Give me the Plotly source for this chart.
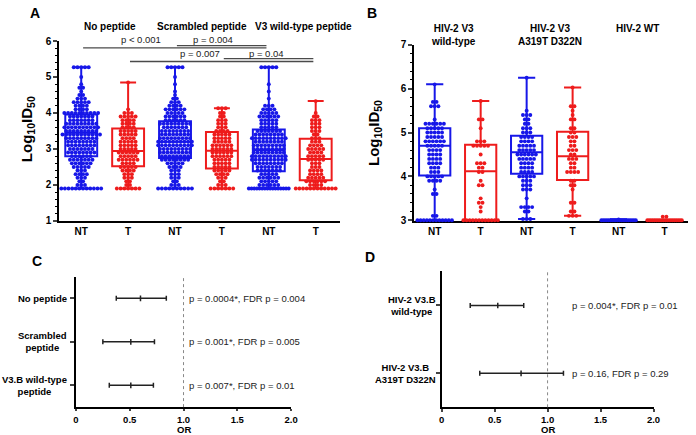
import plotly.graph_objects as go

# ---------------- DATA ----------------
# Panel A (Log10 ID50), groups: No peptide NT/T, Scrambled NT/T, V3 wild-type NT/T
a_ticklabels = ["NT", "T", "NT", "T", "NT", "T"]
a_titles = ["No peptide", "Scrambled peptide", "V3 wild-type peptide"]
a_q1 = [2.80, 2.52, 2.75, 2.46, 2.38, 2.13]
a_med = [3.45, 2.94, 3.20, 2.95, 2.97, 2.72]
a_q3 = [3.96, 3.57, 3.77, 3.47, 3.54, 3.28]
a_min = [1.90, 1.90, 1.90, 1.90, 1.90, 1.90]
a_max = [5.27, 4.85, 5.27, 4.13, 5.27, 4.33]

a_nopep_nt_lv = [1.9, 2.0, 2.1, 2.2, 2.3, 2.4, 2.5, 2.6, 2.7, 2.8, 2.9, 3.0, 3.1, 3.2, 3.3, 3.4, 3.5, 3.6, 3.7, 3.8, 3.9, 4.0, 4.1, 4.2, 4.3, 4.4, 4.5, 4.6, 4.7, 4.8, 5.0, 5.27]
a_nopep_nt_ct = [12, 3, 2, 3, 4, 3, 5, 6, 7, 6, 8, 7, 8, 8, 9, 11, 9, 10, 9, 7, 7, 10, 4, 4, 5, 3, 2, 1, 2, 1, 1, 5]
a_nopep_t_lv = [1.9, 2.0, 2.1, 2.2, 2.3, 2.4, 2.5, 2.6, 2.7, 2.8, 2.9, 3.0, 3.1, 3.2, 3.3, 3.4, 3.5, 3.6, 3.7, 3.8, 3.9, 4.0, 4.1, 4.85]
a_nopep_t_ct = [7, 2, 2, 3, 3, 4, 5, 4, 6, 5, 6, 5, 5, 5, 4, 5, 5, 4, 4, 4, 5, 3, 1, 1]
a_scr_nt_lv = [1.9, 2.0, 2.1, 2.2, 2.3, 2.4, 2.5, 2.6, 2.7, 2.8, 2.9, 3.0, 3.1, 3.2, 3.3, 3.4, 3.5, 3.6, 3.7, 3.8, 3.9, 4.0, 4.1, 4.2, 4.3, 4.4, 4.5, 4.6, 4.8, 5.0, 5.27]
a_scr_nt_ct = [10, 3, 2, 3, 3, 3, 4, 5, 8, 8, 9, 9, 10, 10, 9, 8, 8, 7, 9, 6, 6, 5, 6, 4, 3, 2, 1, 1, 1, 1, 5]
a_scr_t_lv = [1.9, 2.0, 2.1, 2.2, 2.3, 2.4, 2.5, 2.6, 2.7, 2.8, 2.9, 3.0, 3.1, 3.2, 3.3, 3.4, 3.5, 3.6, 3.7, 3.8, 3.9, 4.0, 4.13]
a_scr_t_ct = [7, 3, 2, 3, 4, 5, 5, 5, 5, 6, 6, 6, 6, 5, 5, 5, 4, 3, 3, 3, 2, 2, 3]
a_v3_nt_lv = [1.9, 2.0, 2.1, 2.2, 2.3, 2.4, 2.5, 2.6, 2.7, 2.8, 2.9, 3.0, 3.1, 3.2, 3.3, 3.4, 3.5, 3.6, 3.7, 3.8, 3.9, 4.0, 4.1, 4.2, 4.4, 4.6, 4.8, 5.27]
a_v3_nt_ct = [16, 6, 5, 6, 5, 7, 7, 8, 10, 10, 9, 9, 9, 8, 10, 8, 7, 5, 5, 5, 6, 5, 4, 3, 1, 1, 1, 5]
a_v3_t_lv = [1.9, 2.0, 2.1, 2.2, 2.3, 2.4, 2.5, 2.6, 2.7, 2.8, 2.9, 3.0, 3.1, 3.2, 3.3, 3.4, 3.5, 3.6, 3.7, 3.8, 3.9, 4.0, 4.33]
a_v3_t_ct = [12, 4, 6, 5, 4, 4, 3, 3, 5, 5, 4, 5, 4, 3, 3, 2, 3, 3, 3, 3, 2, 1, 1]

a_comparisons = [(0, 4), (2, 4), (1, 5), (3, 5)]
a_pvalues = ["p < 0.001", "p = 0.004", "p = 0.007", "p = 0.04"]

# Panel B (Log10 ID50), groups: V3 wild-type NT/T, V3 A319T D322N NT/T, HIV-2 WT NT/T
b_ticklabels = ["NT", "T", "NT", "T", "NT", "T"]
b_titles = ["HIV-2 V3<br>wild-type", "HIV-2 V3<br>A319T D322N", "HIV-2 WT"]
b_q1 = [4.02, 3.00, 4.06, 3.92, 3.00, 3.00]
b_med = [4.70, 4.12, 4.55, 4.46, 3.00, 3.00]
b_q3 = [5.10, 4.72, 4.93, 5.02, 3.00, 3.00]
b_min = [3.00, 3.00, 3.03, 3.10, 3.00, 3.00]
b_max = [6.10, 5.72, 6.25, 6.03, 3.02, 3.00]

b_wt_nt_lv = [3.0, 3.1, 3.6, 3.7, 3.9, 4.0, 4.1, 4.2, 4.3, 4.4, 4.5, 4.6, 4.7, 4.8, 4.9, 5.0, 5.1, 5.2, 5.3, 5.6, 5.7, 6.1]
b_wt_nt_ct = [12, 2, 2, 1, 4, 5, 3, 3, 4, 4, 4, 4, 5, 6, 5, 5, 5, 6, 1, 3, 2, 1]
b_wt_t_lv = [3.0, 3.2, 3.3, 3.4, 3.5, 3.8, 3.9, 4.1, 4.2, 4.3, 4.5, 4.7, 4.8, 5.1, 5.3, 5.72]
b_wt_t_ct = [12, 1, 1, 2, 1, 2, 1, 2, 2, 3, 1, 5, 3, 1, 2, 1]
b_mut_nt_lv = [3.03, 3.2, 3.3, 3.5, 3.7, 3.8, 3.9, 4.0, 4.1, 4.2, 4.3, 4.4, 4.5, 4.6, 4.7, 4.8, 4.9, 5.0, 5.1, 5.2, 5.3, 5.4, 5.5, 6.25]
b_mut_nt_ct = [3, 2, 4, 1, 3, 3, 3, 5, 4, 4, 4, 5, 6, 5, 5, 4, 4, 3, 3, 2, 2, 3, 1, 1]
b_mut_t_lv = [3.1, 3.2, 3.4, 3.7, 3.8, 3.9, 4.1, 4.2, 4.3, 4.4, 4.5, 4.6, 4.7, 4.8, 4.9, 5.0, 5.1, 5.3, 5.4, 5.5, 5.6, 6.03]
b_mut_t_ct = [3, 2, 2, 1, 2, 2, 4, 2, 2, 3, 2, 3, 2, 2, 3, 2, 2, 2, 1, 1, 2, 1]
b_hiv2_nt_lv = [3.0, 3.02]
b_hiv2_nt_ct = [20, 1]
b_hiv2_t_lv = [3.0, 3.08]
b_hiv2_t_ct = [20, 2]

# Panel C (odds ratios)
c_labels = ["No peptide", "Scrambled<br>peptide", "V3.B wild-type<br>peptide"]
c_or = [0.60, 0.51, 0.51]
c_lo = [0.375, 0.25, 0.31]
c_hi = [0.84, 0.73, 0.72]
c_ptext = ["p = 0.0004*, FDR p = 0.004", "p = 0.001*, FDR p = 0.005", "p = 0.007*, FDR p = 0.01"]

# Panel D (odds ratios)
d_labels = ["HIV-2 V3.B<br>wild-type", "HIV-2 V3.B<br>A319T D322N"]
d_or = [0.53, 0.75]
d_lo = [0.27, 0.36]
d_hi = [0.775, 1.15]
d_ptext = ["p = 0.004*, FDR p = 0.01", "p = 0.16, FDR p = 0.29"]

or_ticks = [0, 0.5, 1.0, 1.5, 2.0]
or_ticktext = ["0", "0.5", "1.0", "1.5", "2.0"]

# ---------------- STYLE ----------------
FONT = "Liberation Sans, Arial, sans-serif"
BLUE = "#1717e8"
RED = "#ee1c1c"
COLS = [BLUE, RED, BLUE, RED, BLUE, RED]
W, H = 696, 435


def swarm(levels, counts, center, dx, maxw):
    xs, ys = [], []
    for v, n in zip(levels, counts):
        step = min(dx, maxw / (n - 1)) if n > 1 else 0
        for i in range(n):
            xs.append(center + (i - (n - 1) / 2) * step)
            ys.append(v)
    return xs, ys


def px_x(p):
    return p / W


def px_y(p):
    return 1 - p / H


fig = go.Figure()

# ---- Panel A ----
a_sets = [(a_nopep_nt_lv, a_nopep_nt_ct), (a_nopep_t_lv, a_nopep_t_ct),
          (a_scr_nt_lv, a_scr_nt_ct), (a_scr_t_lv, a_scr_t_ct),
          (a_v3_nt_lv, a_v3_nt_ct), (a_v3_t_lv, a_v3_t_ct)]
for i in range(6):
    fig.add_trace(go.Box(x=[i], q1=[a_q1[i]], median=[a_med[i]], q3=[a_q3[i]],
                         lowerfence=[a_min[i]], upperfence=[a_max[i]],
                         width=0.68, whiskerwidth=0.5, boxpoints=False,
                         line=dict(color=COLS[i], width=2), fillcolor="rgba(0,0,0,0)",
                         xaxis="x", yaxis="y", showlegend=False, hoverinfo="skip"))
for i, (lv, ct) in enumerate(a_sets):
    xs, ys = swarm(lv, ct, i, 0.08, 0.85)
    fig.add_trace(go.Scatter(x=xs, y=ys, mode="markers",
                             marker=dict(color=COLS[i], size=3.9),
                             xaxis="x", yaxis="y", showlegend=False, cliponaxis=False))

# ---- Panel B ----
b_sets = [(b_wt_nt_lv, b_wt_nt_ct), (b_wt_t_lv, b_wt_t_ct),
          (b_mut_nt_lv, b_mut_nt_ct), (b_mut_t_lv, b_mut_t_ct),
          (b_hiv2_nt_lv, b_hiv2_nt_ct), (b_hiv2_t_lv, b_hiv2_t_ct)]
for i in range(6):
    fig.add_trace(go.Box(x=[i], q1=[b_q1[i]], median=[b_med[i]], q3=[b_q3[i]],
                         lowerfence=[b_min[i]], upperfence=[b_max[i]],
                         width=0.68, whiskerwidth=0.55, boxpoints=False,
                         line=dict(color=COLS[i], width=2), fillcolor="rgba(0,0,0,0)",
                         xaxis="x2", yaxis="y2", showlegend=False, hoverinfo="skip"))
for i, (lv, ct) in enumerate(b_sets):
    xs, ys = swarm(lv, ct, i, 0.08, 0.75)
    fig.add_trace(go.Scatter(x=xs, y=ys, mode="markers",
                             marker=dict(color=COLS[i], size=3.9),
                             xaxis="x2", yaxis="y2", showlegend=False, cliponaxis=False))

# ---- Panel C ----
c_rows = [3, 2, 1]
fig.add_trace(go.Scatter(
    x=c_or, y=c_rows, mode="markers",
    marker=dict(symbol="line-ns-open", size=4, color="#222", line=dict(width=1.5, color="#222")),
    error_x=dict(type="data", symmetric=False,
                 array=[h - o for h, o in zip(c_hi, c_or)],
                 arrayminus=[o - l for o, l in zip(c_or, c_lo)],
                 color="#222", thickness=1.5, width=2.5),
    xaxis="x3", yaxis="y3", showlegend=False))

# ---- Panel D ----
d_rows = [2, 1]
fig.add_trace(go.Scatter(
    x=d_or, y=d_rows, mode="markers",
    marker=dict(symbol="line-ns-open", size=4, color="#222", line=dict(width=1.5, color="#222")),
    error_x=dict(type="data", symmetric=False,
                 array=[h - o for h, o in zip(d_hi, d_or)],
                 arrayminus=[o - l for o, l in zip(d_or, d_lo)],
                 color="#222", thickness=1.5, width=2.5),
    xaxis="x4", yaxis="y4", showlegend=False))

# ---------------- LAYOUT ----------------
tickfont = dict(family=FONT, size=10, color="black", weight="bold")
tickfont_or = dict(family=FONT, size=9.5, color="black", weight="bold")
common = dict(showline=True, linecolor="black", linewidth=1.5, zeroline=False, showgrid=False)


def dom_x(a, b):
    return [a / W, b / W]


def dom_y(top, bottom):
    return [1 - bottom / H, 1 - top / H]


fig.update_layout(
    width=W, height=H, margin=dict(l=0, r=0, t=0, b=0), autosize=False,
    paper_bgcolor="white", plot_bgcolor="white", showlegend=False,
    font=dict(family=FONT, color="black"),
    xaxis=dict(domain=dom_x(57, 342), range=[-0.47, 5.52], anchor="y", tickfont=tickfont,
               tickvals=list(range(6)), ticktext=a_ticklabels, ticks="", **common),
    yaxis=dict(domain=dom_y(36, 221), range=[1, 6], anchor="x", tickfont=tickfont,
               tickvals=[1, 2, 3, 4, 5, 6], ticks="outside", ticklen=4, tickwidth=1.5,
               minor=dict(ticks="outside", ticklen=2, tickwidth=1, dtick=0.2, tick0=1, tickcolor="black"),
               **common),
    xaxis2=dict(domain=dom_x(417, 695), range=[-0.45, 5.51], anchor="y2", tickfont=tickfont,
                tickvals=list(range(6)), ticktext=b_ticklabels, ticks="", layer="below traces",
                **common),
    yaxis2=dict(domain=dom_y(40, 221), range=[2.985, 7], anchor="x2", tickfont=tickfont,
                tickvals=[3, 4, 5, 6, 7], ticks="outside", ticklen=4, tickwidth=1.5,
                minor=dict(ticks="outside", ticklen=2, tickwidth=1, dtick=0.2, tick0=3, tickcolor="black"),
                **common),
    xaxis3=dict(domain=dom_x(74, 292.3), range=[0, 2], anchor="y3", tickfont=tickfont_or,
                tickvals=or_ticks, ticktext=or_ticktext, ticks="outside", ticklen=2.5, tickwidth=1.5,
                **common),
    yaxis3=dict(domain=dom_y(278.3, 412.5), range=[0.5, 3.5], anchor="x3",
                tickvals=c_rows, showticklabels=False, ticks="outside", ticklen=4, tickwidth=1.5,
                **common),
    xaxis4=dict(domain=dom_x(445, 660), range=[0, 2], anchor="y4", tickfont=tickfont_or,
                tickvals=or_ticks, ticktext=or_ticktext, ticks="outside", ticklen=2.5, tickwidth=1.5,
                **common),
    yaxis4=dict(domain=dom_y(273, 412.7), range=[0.5, 2.5], anchor="x4",
                tickvals=d_rows, showticklabels=False, ticks="outside", ticklen=4, tickwidth=1.5,
                **common),
)

shapes = []
ann = []


def A(**kw):
    d = dict(showarrow=False, xanchor="center", yanchor="middle")
    d.update(kw)
    ann.append(d)


# significance bars panel A
bar_y = [5.81, 5.87, 5.43, 5.51]
lab_x = [1.28, 2.82, 2.54, 3.95]
lab_py = [34, 34, 49, 49]
for (g1, g2), p, by, lx, lpy in zip(a_comparisons, a_pvalues, bar_y, lab_x, lab_py):
    shapes.append(dict(type="line", xref="x", yref="y", x0=g1 + 0.04, x1=g2 - 0.05, y0=by, y1=by,
                       line=dict(color="#4a4a4a", width=1.3)))
    A(x=lx, y=px_y(lpy), xref="x", yref="paper", text=p,
      font=dict(family=FONT, size=9.5, color="#222"))

# dotted OR=1 lines
shapes.append(dict(type="line", xref="x3", yref="y3 domain", x0=1, x1=1, y0=0, y1=1,
                   line=dict(color="#888", width=1, dash="dot")))
shapes.append(dict(type="line", xref="x4", yref="y4 domain", x0=1, x1=1, y0=0, y1=1,
                   line=dict(color="#888", width=1, dash="dot")))

# group titles
a_title_x = [0.61, 2.58, 4.73]
for t, tx in zip(a_titles, a_title_x):
    A(x=tx, y=px_y(21), xref="x", yref="paper", text=t,
      font=dict(family=FONT, size=10, weight="bold"))
b_title_x = [0.41, 2.5, 4.41]
for t, tx in zip(b_titles, b_title_x):
    A(x=tx, y=px_y(15), xref="x2", yref="paper", text=t, yanchor="top",
      font=dict(family=FONT, size=10, weight="bold"))

# panel letters
for letter, cx, cy in [("A", 32, 7), ("B", 374, 7), ("C", 34, 262), ("D", 372, 258)]:
    A(x=px_x(cx), y=px_y(cy), xref="paper", yref="paper", text=letter,
      font=dict(family=FONT, size=14, weight="bold"))

# y axis titles
for cx, cy in [(25, 127), (377, 131)]:
    A(x=px_x(cx), y=px_y(cy), xref="paper", yref="paper", textangle=-90,
      text="Log<sub>10</sub>ID<sub>50</sub>", font=dict(family=FONT, size=15, weight="bold"))

# forest labels
for lbl, r in zip(c_labels, c_rows):
    A(x=0, y=r, xref="x3", yref="y3", xanchor="right", xshift=-7, text=lbl,
      align="center", font=dict(family=FONT, size=9.5, weight="bold"))
for lbl, r in zip(d_labels, d_rows):
    A(x=0, y=r, xref="x4", yref="y4", xanchor="right", xshift=-4, text=lbl,
      align="center", font=dict(family=FONT, size=9.5, weight="bold"))
for t, r in zip(c_ptext, c_rows):
    A(x=1.03, y=r, xref="x3", yref="y3", xanchor="left", text=t,
      font=dict(family=FONT, size=9.5, color="#222"))
for t, r in zip(d_ptext, d_rows):
    A(x=1.21, y=r, xref="x4", yref="y4", xanchor="left", text=t,
      font=dict(family=FONT, size=9.5, color="#222"))

# OR axis titles
A(x=1, y=px_y(428), xref="x3", yref="paper", text="OR", yanchor="top",
  font=dict(family=FONT, size=9.5, weight="bold"))
A(x=1, y=px_y(428), xref="x4", yref="paper", text="OR", yanchor="top",
  font=dict(family=FONT, size=9.5, weight="bold"))

fig.update_layout(shapes=shapes, annotations=ann)
fig.write_html("out.html", config={"displayModeBar": False},
               post_script="document.body.style.margin='0px';document.body.style.overflow='hidden';")
